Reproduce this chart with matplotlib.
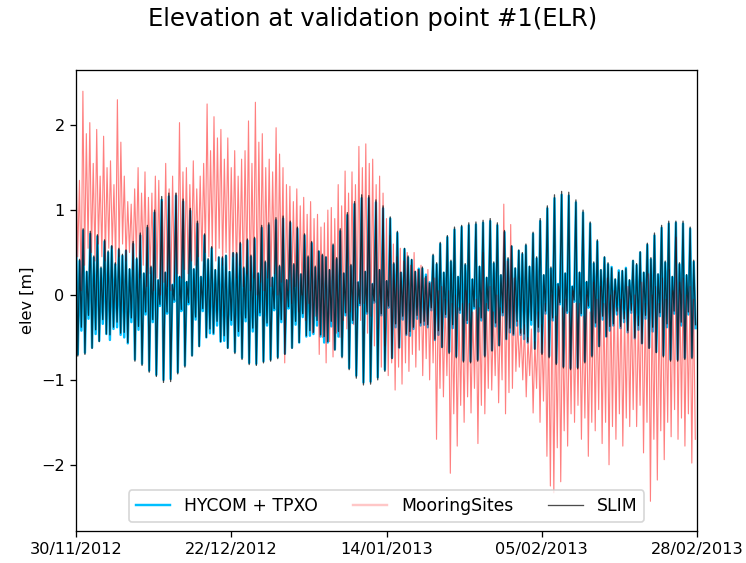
import matplotlib
matplotlib.use("Agg")
import matplotlib.pyplot as plt
import matplotlib.dates as mdates
import numpy as np
import pandas as pd

# Validation window
start = pd.Timestamp("2012-11-30")
end = pd.Timestamp("2013-02-28")

# Model tide extremes, one row per lunar day:
# higher high, lower low, lower high, higher low
slim_hh = [0.78, 0.78, 0.75, 0.71, 0.65, 0.58, 0.55, 0.53, 0.63, 0.73,
           0.82, 1.00, 1.16, 1.20, 1.20, 1.13, 1.02, 0.87, 0.72, 0.57,
           0.45, 0.47, 0.50, 0.62, 0.66, 0.68, 0.82, 0.85, 0.91, 0.93,
           0.87, 0.80, 0.72, 0.63, 0.52, 0.45, 0.60, 0.78, 0.97, 1.10,
           1.18, 1.17, 1.12, 1.05, 0.92, 0.75, 0.55, 0.42, 0.30, 0.22,
           0.48, 0.62, 0.70, 0.80, 0.82, 0.85, 0.86, 0.88, 0.90, 0.85,
           0.76, 0.58, 0.53, 0.60, 0.74, 0.90, 1.05, 1.18, 1.22, 1.21,
           1.12, 1.00, 0.86, 0.65, 0.45, 0.32, 0.27, 0.31, 0.41, 0.51,
           0.61, 0.73, 0.82, 0.87, 0.87, 0.87, 0.80]
slim_ll = [-0.72, -0.70, -0.63, -0.55, -0.46, -0.38, -0.45, -0.56, -0.78, -0.83,
           -0.91, -0.96, -1.03, -1.02, -0.93, -0.85, -0.72, -0.61, -0.50, -0.45,
           -0.55, -0.63, -0.69, -0.76, -0.82, -0.83, -0.80, -0.78, -0.75, -0.70,
           -0.63, -0.56, -0.48, -0.44, -0.47, -0.55, -0.65, -0.74, -0.88, -0.98,
           -1.06, -1.05, -1.00, -0.90, -0.75, -0.62, -0.46, -0.38, -0.33, -0.35,
           -0.52, -0.62, -0.69, -0.74, -0.79, -0.80, -0.78, -0.73, -0.66, -0.60,
           -0.52, -0.46, -0.45, -0.55, -0.64, -0.70, -0.74, -0.82, -0.86, -0.88,
           -0.87, -0.80, -0.73, -0.61, -0.49, -0.34, -0.37, -0.42, -0.50, -0.57,
           -0.63, -0.68, -0.73, -0.78, -0.78, -0.76, -0.75]
slim_lh = [0.42, 0.28, 0.46, 0.33, 0.52, 0.38, 0.48, 0.31,
           0.44, 0.26, 0.34, 0.18, 0.27, 0.12, 0.22, 0.16, 0.31, 0.22, 0.43,
           0.30, 0.45, 0.28, 0.50,
           0.33, 0.47, 0.26, 0.40, 0.21, 0.35, 0.18, 0.37, 0.25, 0.46, 0.34,
           0.48, 0.30, 0.44,
           0.26, 0.36, 0.15, 0.28, 0.13, 0.30, 0.17, 0.38, 0.27,
           0.46, 0.28, 0.33, 0.14, 0.38,
           0.27, 0.41, 0.22, 0.37, 0.19, 0.34, 0.21, 0.39, 0.24, 0.44,
           0.32, 0.50, 0.34, 0.45,
           0.24, 0.33, 0.13, 0.26, 0.10, 0.27, 0.16, 0.39,
           0.30, 0.38, 0.19, 0.29, 0.18, 0.37,
           0.27, 0.44, 0.25, 0.40, 0.22, 0.38, 0.24, 0.41]
slim_hl = [-0.38, -0.24, -0.41, -0.29, -0.47, -0.32, -0.44, -0.27,
           -0.37, -0.20, -0.29, -0.11, -0.20, -0.06, -0.17, -0.09, -0.26, -0.16, -0.40,
           -0.31, -0.48, -0.30, -0.43,
           -0.27, -0.39, -0.21, -0.33, -0.16, -0.29, -0.14, -0.31, -0.22, -0.42, -0.30,
           -0.49, -0.31, -0.43,
           -0.21, -0.30, -0.10, -0.20, -0.07, -0.22, -0.13, -0.34, -0.25,
           -0.43, -0.24, -0.31, -0.15, -0.42,
           -0.23, -0.35, -0.18, -0.30, -0.14, -0.27, -0.16, -0.33, -0.21, -0.39,
           -0.31, -0.46, -0.30, -0.38,
           -0.19, -0.27, -0.09, -0.19, -0.06, -0.22, -0.13, -0.33,
           -0.25, -0.37, -0.19, -0.28, -0.18, -0.36,
           -0.24, -0.38, -0.21, -0.34, -0.19, -0.32, -0.20, -0.35]

hycom_hh = [0.75, 0.76, 0.72, 0.69, 0.63, 0.57, 0.53, 0.52, 0.60, 0.70,
            0.79, 0.97, 1.12, 1.16, 1.17, 1.10, 0.99, 0.84, 0.70, 0.55,
            0.44, 0.46, 0.49, 0.60, 0.64, 0.66, 0.79, 0.82, 0.88, 0.90,
            0.85, 0.78, 0.70, 0.61, 0.51, 0.44, 0.58, 0.75, 0.94, 1.07,
            1.14, 1.14, 1.09, 1.02, 0.90, 0.73, 0.54, 0.41, 0.31, 0.24,
            0.46, 0.60, 0.68, 0.77, 0.80, 0.82, 0.83, 0.85, 0.87, 0.82,
            0.74, 0.57, 0.52, 0.58, 0.72, 0.87, 1.02, 1.14, 1.18, 1.17,
            1.09, 0.97, 0.84, 0.63, 0.44, 0.33, 0.29, 0.32, 0.40, 0.50,
            0.59, 0.70, 0.79, 0.84, 0.85, 0.84, 0.78]
hycom_ll = [-0.70, -0.68, -0.62, -0.54, -0.46, -0.40, -0.47, -0.57, -0.76, -0.81,
            -0.89, -0.94, -1.00, -0.99, -0.91, -0.83, -0.71, -0.60, -0.50, -0.46,
            -0.55, -0.62, -0.67, -0.74, -0.80, -0.81, -0.78, -0.76, -0.73, -0.69,
            -0.62, -0.56, -0.49, -0.46, -0.49, -0.56, -0.64, -0.72, -0.86, -0.95,
            -1.03, -1.02, -0.97, -0.88, -0.74, -0.62, -0.47, -0.40, -0.36, -0.38,
            -0.53, -0.61, -0.67, -0.72, -0.77, -0.78, -0.76, -0.71, -0.65, -0.59,
            -0.52, -0.47, -0.47, -0.56, -0.63, -0.68, -0.72, -0.80, -0.84, -0.86,
            -0.85, -0.78, -0.71, -0.60, -0.49, -0.36, -0.39, -0.44, -0.51, -0.57,
            -0.62, -0.67, -0.71, -0.76, -0.76, -0.74, -0.73]
hycom_lh = [0.40, 0.27, 0.44, 0.31, 0.50, 0.36, 0.46, 0.30,
            0.42, 0.25, 0.32, 0.17, 0.26, 0.12, 0.21, 0.15, 0.30, 0.21, 0.41,
            0.29, 0.43, 0.27, 0.48,
            0.31, 0.45, 0.25, 0.38, 0.20, 0.33, 0.17, 0.35, 0.24, 0.44, 0.32,
            0.46, 0.29, 0.42,
            0.25, 0.34, 0.15, 0.27, 0.13, 0.29, 0.16, 0.36, 0.26,
            0.44, 0.27, 0.31, 0.15, 0.36,
            0.26, 0.39, 0.21, 0.35, 0.18, 0.33, 0.20, 0.37, 0.23, 0.42,
            0.31, 0.48, 0.33, 0.43,
            0.23, 0.31, 0.13, 0.25, 0.10, 0.26, 0.15, 0.37,
            0.29, 0.36, 0.18, 0.28, 0.17, 0.35,
            0.26, 0.42, 0.24, 0.38, 0.21, 0.36, 0.23, 0.39]
hycom_hl = [-0.42, -0.28, -0.46, -0.34, -0.53, -0.38, -0.50, -0.32,
            -0.41, -0.23, -0.32, -0.13, -0.22, -0.08, -0.19, -0.11, -0.29, -0.19, -0.45,
            -0.36, -0.54, -0.35, -0.48,
            -0.31, -0.43, -0.24, -0.36, -0.18, -0.32, -0.16, -0.35, -0.26, -0.48, -0.36,
            -0.56, -0.37, -0.49,
            -0.24, -0.33, -0.12, -0.22, -0.09, -0.24, -0.15, -0.38, -0.29,
            -0.48, -0.28, -0.35, -0.18, -0.47,
            -0.26, -0.39, -0.21, -0.33, -0.16, -0.30, -0.18, -0.37, -0.24, -0.44,
            -0.36, -0.52, -0.35, -0.43,
            -0.22, -0.30, -0.11, -0.21, -0.08, -0.24, -0.15, -0.37,
            -0.29, -0.42, -0.23, -0.32, -0.21, -0.41,
            -0.28, -0.43, -0.25, -0.38, -0.22, -0.36, -0.23, -0.39]

# Mooring record: high and low of each half day (two pairs per day)
mooring_hi = [1.66, 1.35, 2.40, 1.90, 2.03, 1.55, 1.95, 1.40, 1.87, 1.50,
              1.58, 1.30, 2.30, 1.80, 1.40, 1.10, 1.07, 1.25, 1.50, 1.20,
              1.45, 1.15, 1.20, 1.40, 1.35, 1.10, 1.55, 1.25, 1.40, 1.20,
              2.03, 1.45, 1.50, 1.30, 1.58, 1.25, 1.40, 1.55, 2.25, 1.70,
              2.10, 1.85, 1.95, 1.60, 1.85, 1.50, 1.70, 1.40, 1.60, 1.70,
              2.05, 1.55, 2.27, 1.80, 1.90, 1.50, 1.60, 1.45, 1.97, 1.66,
              1.50, 1.30, 1.28, 1.10, 1.25, 1.05, 1.15, 0.95, 1.10, 0.90,
              0.95, 0.80, 0.85, 1.00, 1.03, 0.90, 1.30, 1.05, 1.46, 1.20,
              1.45, 1.30, 1.75, 1.50, 1.78, 1.55, 1.60, 1.30, 1.40, 1.20,
              0.90, 0.70, 0.60, 0.45, 0.55, 0.40, 0.50, 0.35, 0.50, 0.30,
              0.35, 0.20, 0.30, 0.15, 0.20, 0.05, 0.10, -0.05, 0.05, -0.10,
              0.00, -0.15, -0.10, 0.05, -0.10, -0.20, -0.05, -0.15, 0.50, -0.10,
              0.10, -0.20, 0.00, -0.15, 1.07, 0.40, 0.83, 0.20, -0.30, -0.40,
              -0.35, -0.50, -0.40, -0.55, -0.20, -0.35, -0.10, -0.30, 0.00, -0.25,
              0.10, -0.15, -0.05, -0.20, 0.05, -0.10, -0.10, -0.25, 0.00, -0.20,
              0.15, -0.05, 0.10, -0.10, 0.20, 0.00, 0.05, -0.15, -0.05, -0.20,
              0.10, -0.10, 0.00, -0.25, 0.15, -0.10, 0.25, 0.00, 0.10, -0.10,
              0.20, -0.05, 0.30, 0.05, 0.68, 0.15, 0.20, 0.00, 0.10, -0.05]
mooring_lo = [0.45, 0.05, 0.35, 0.55, 0.50, 0.40, 0.60, 0.45, 0.40, 0.55,
              0.55, 0.35, 0.45, 0.60, 0.40, 0.50, 0.30, 0.45, 0.20, 0.35,
              0.10, 0.25, 0.05, 0.20, 0.00, 0.15, 0.10, 0.05, 0.15, 0.25,
              0.20, 0.30, 0.25, 0.40, 0.35, 0.45, 0.40, 0.50, 0.45, 0.55,
              0.40, 0.55, 0.35, 0.50, 0.30, 0.45, 0.20, 0.35, 0.10, 0.25,
              0.05, 0.20, 0.00, 0.15, 0.05, 0.20, 0.10, 0.25, 0.00, 0.15,
              -0.80, 0.05, -0.10, 0.10, -0.20, 0.00, -0.30, -0.10, -0.45, -0.25,
              -0.70, -0.50, -0.80, -0.55, -0.73, -0.45, -0.50, -0.30, -0.40, -0.20,
              -0.35, -0.15, -0.30, -0.10, -0.45, -0.25, -0.60, -0.40, -0.85, -0.60,
              -0.95, -0.80, -1.12, -0.85, -1.05, -0.80, -0.90, -0.70, -0.85, -0.65,
              -0.95, -0.75, -1.00, -0.80, -1.70, -1.10, -1.20, -0.95, -2.10, -1.40,
              -1.78, -1.30, -1.50, -1.20, -1.39, -1.10, -1.75, -1.30, -1.40, -1.10,
              -1.12, -0.95, -1.27, -1.00, -1.40, -1.15, -1.10, -0.90, -0.85, -1.00,
              -1.20, -0.95, -1.39, -1.10, -1.50, -1.25, -1.90, -2.25, -2.33, -1.80,
              -2.20, -1.60, -1.78, -1.40, -1.50, -1.30, -1.70, -1.45, -1.90, -1.50,
              -1.60, -1.35, -1.75, -1.50, -2.00, -1.55, -1.70, -1.40, -1.78, -1.45,
              -1.55, -1.35, -1.55, -1.30, -1.86, -1.50, -2.43, -1.70, -2.18, -1.60,
              -1.94, -1.50, -1.67, -1.35, -1.70, -1.45, -1.78, -1.40, -1.98, -1.70]


def tide_series(hh, ll, lh, hl):
    # order within each lunar day: HH -> LL -> LH -> HL
    return np.column_stack([hh, ll, lh, hl]).ravel()


slim = tide_series(slim_hh, slim_ll, slim_lh, slim_hl)
hycom = tide_series(hycom_hh, hycom_ll, hycom_lh, hycom_hl)
mooring = np.column_stack([mooring_hi, mooring_lo]).ravel()

# extremes every quarter lunar day, mooring values every 6 hours
t_model = start + pd.to_timedelta(np.arange(len(slim)) * 6.21, unit="h")
t_obs = start + pd.to_timedelta(np.arange(len(mooring)) * 6.0, unit="h")

dpi = 116.6
fig = plt.figure(figsize=(746 / dpi, 563 / dpi), dpi=dpi)
ax = fig.add_axes([76 / 746, 32 / 563, 621 / 746, 461 / 563])

ax.plot(t_model, hycom, color="deepskyblue", lw=1.5, label="HYCOM + TPXO")
ax.plot(t_obs, mooring, color="red", lw=0.7, alpha=0.5, label="MooringSites")
ax.plot(t_model, slim, color="k", lw=0.8, alpha=0.7, label="SLIM")

ax.set_xlim(start, end)
ax.set_ylim(-2.78, 2.65)
ax.set_xticks(pd.date_range(start, end, periods=5))
ax.xaxis.set_major_formatter(mdates.DateFormatter("%d/%m/%Y"))
ax.set_ylabel("elev [m]")
leg = ax.legend(loc="lower center", ncol=3, fontsize=10.7)
# lighter swatch for the observations in the key
leg.legend_handles[1].set_alpha(0.22)
leg.legend_handles[1].set_linewidth(1.5)

fig.suptitle("Elevation at validation point #1(ELR)", fontsize=15,
             y=1 - 7 / 563, va="top")

fig.savefig("out.png", dpi=dpi)
